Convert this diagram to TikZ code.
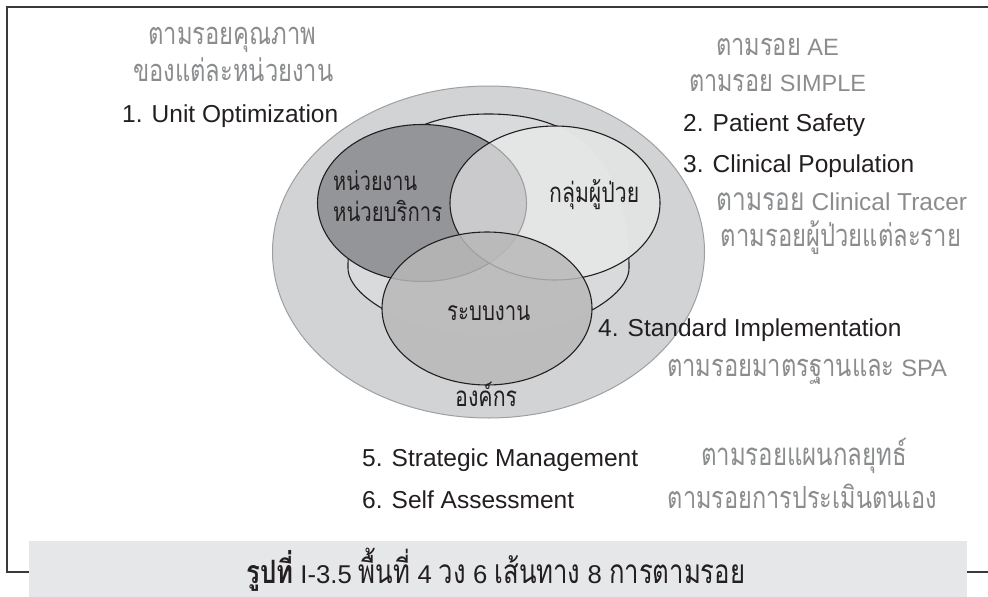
\documentclass[tikz,border=0pt]{standalone}
\usepackage{fontspec}
\usepackage{graphicx}
\setmainfont{Liberation Sans}
\newfontfamily\thf[Script=Thai]{Loma}
\definecolor{ink}{HTML}{231F20}
\definecolor{txtgray}{HTML}{8A8C8E}
\definecolor{outerfill}{HTML}{D1D3D4}
\definecolor{outerline}{HTML}{9D9FA2}
\definecolor{ringfill}{HTML}{D9DADB}
\definecolor{darkfill}{HTML}{939598}
\definecolor{lightfill}{HTML}{ECECEC}
\definecolor{sysfill}{HTML}{B8B8B8}
\definecolor{capfill}{HTML}{E6E7E8}
\definecolor{framec}{HTML}{3A3A3A}
\newcommand\fitw[2]{\resizebox{#1pt}{!}{#2}}
\newcommand\thx[1]{\scalebox{1}[1.3]{\thf #1}}
\newcommand\thb[1]{\scalebox{1}[1.25]{\thf\bfseries #1}}
\begin{document}
\begin{tikzpicture}[x=1pt,y=-1pt,
  circ/.style={draw=ink,line width=1.1pt},
  en/.style={text=ink,font=\fontsize{24.5}{28}\selectfont,inner sep=0pt,anchor=base west},
  gt/.style={text=txtgray,inner sep=0pt,anchor=base},
  ct/.style={text=ink,inner sep=0pt,anchor=base west},
  frameline/.style={draw=framec,line width=1.3pt}]
\useasboundingbox (0,0) rectangle (988,597);
% frame and caption band
\draw[frameline] (988,7) -- (7,7) -- (7,572) -- (29,572);
\draw[frameline] (967,572) -- (988,572);
\fill[capfill] (29,541) rectangle (967,597);
% organisation ellipse
\path[fill=outerfill,draw=outerline,line width=1pt] (488.5,252) ellipse [x radius=216,y radius=166];
% background ring
\path[fill=ringfill,draw=ink,line width=1.1pt] (348,268) .. controls (348,165) and (395,114) .. (488.5,114) .. controls (582,114) and (629,165) .. (629,268) .. controls (629,300) and (557,336) .. (488.5,336) .. controls (420,336) and (348,300) .. (348,268) -- cycle;
% hide ring outline under translucent circles
\begin{scope}
  \clip (555,203) ellipse [x radius=105,y radius=77];
  \fill[outerfill] (488.5,252) ellipse [x radius=216,y radius=166];
  \fill[ringfill] (348,268) .. controls (348,165) and (395,114) .. (488.5,114) .. controls (582,114) and (629,165) .. (629,268) .. controls (629,300) and (557,336) .. (488.5,336) .. controls (420,336) and (348,300) .. (348,268) -- cycle;
\end{scope}
\begin{scope}
  \clip (487,308.5) ellipse [x radius=105,y radius=76.5];
  \fill[outerfill] (488.5,252) ellipse [x radius=216,y radius=166];
  \fill[ringfill] (348,268) .. controls (348,165) and (395,114) .. (488.5,114) .. controls (582,114) and (629,165) .. (629,268) .. controls (629,300) and (557,336) .. (488.5,336) .. controls (420,336) and (348,300) .. (348,268) -- cycle;
\end{scope}
% three circles
\path[circ,fill=darkfill] (422,203) ellipse [x radius=104.5,y radius=78.5];
\path[circ,fill=lightfill,fill opacity=0.62] (555,203) ellipse [x radius=105,y radius=77];
\path[circ,fill=sysfill,fill opacity=0.84] (487,308.5) ellipse [x radius=105,y radius=76.5];
% circle labels
\node[ct] (unitA) at (333,190) {\fitw{84}{\thx{หน่วยงาน}}};
\node[ct] (unitB) at (333,221.7) {\fitw{109}{\thx{หน่วยบริการ}}};
\node[ct] (pat) at (549,202) {\fitw{90}{\thx{กลุ่มผู้ป่วย}}};
\node[ct] (sys) at (447,320.7) {\fitw{83}{\thx{ระบบงาน}}};
\node[ct] (org) at (455,406.7) {\fitw{62}{\thx{องค์กร}}};
% black route labels
\node[en] (r1) at (122,122.5) {1. Unit Optimization};
\node[en] (r2) at (683,131.5) {2. Patient Safety};
\node[en] (r3) at (683,172) {3. Clinical Population};
\node[en] (r4) at (598,336.5) {4. Standard Implementation};
\node[en] (r5) at (362,466.5) {5. Strategic Management};
\node[en] (r6) at (362,508) {6. Self Assessment};
% gray tracer labels
\node[gt] (g1) at (232.5,45) {\fitw{168}{\thx{ตามรอยคุณภาพ}}};
\node[gt] (g2) at (233.3,81) {\fitw{200}{\thx{ของแต่ละหน่วยงาน}}};
\node[gt] (g3) at (777.5,55) {\fitw{123}{\thx{ตามรอย} AE}};
\node[gt] (g4) at (777.5,91.7) {\fitw{177}{\thx{ตามรอย} SIMPLE}};
\node[gt] (g5) at (842,210) {\fitw{250}{\thx{ตามรอย} Clinical Tracer}};
\node[gt] (g6) at (841,246.7) {\fitw{240}{\thx{ตามรอยผู้ป่วยแต่ละราย}}};
\node[gt] (g7) at (807,376) {\fitw{280}{\thx{ตามรอยมาตรฐานและ} SPA}};
\node[gt] (g8) at (804,465.7) {\fitw{206}{\thx{ตามรอยแผนกลยุทธ์}}};
\node[gt] (g9) at (802.5,508) {\fitw{269}{\thx{ตามรอยการประเมินตนเอง}}};
% caption
\node[ct] (cap) at (246,583) {\fitw{499}{\thb{รูปที่} I-3.5 \thx{พื้นที่} 4 \thx{วง} 6 \thx{เส้นทาง} 8 \thx{การตามรอย}}};
\end{tikzpicture}
\end{document}
